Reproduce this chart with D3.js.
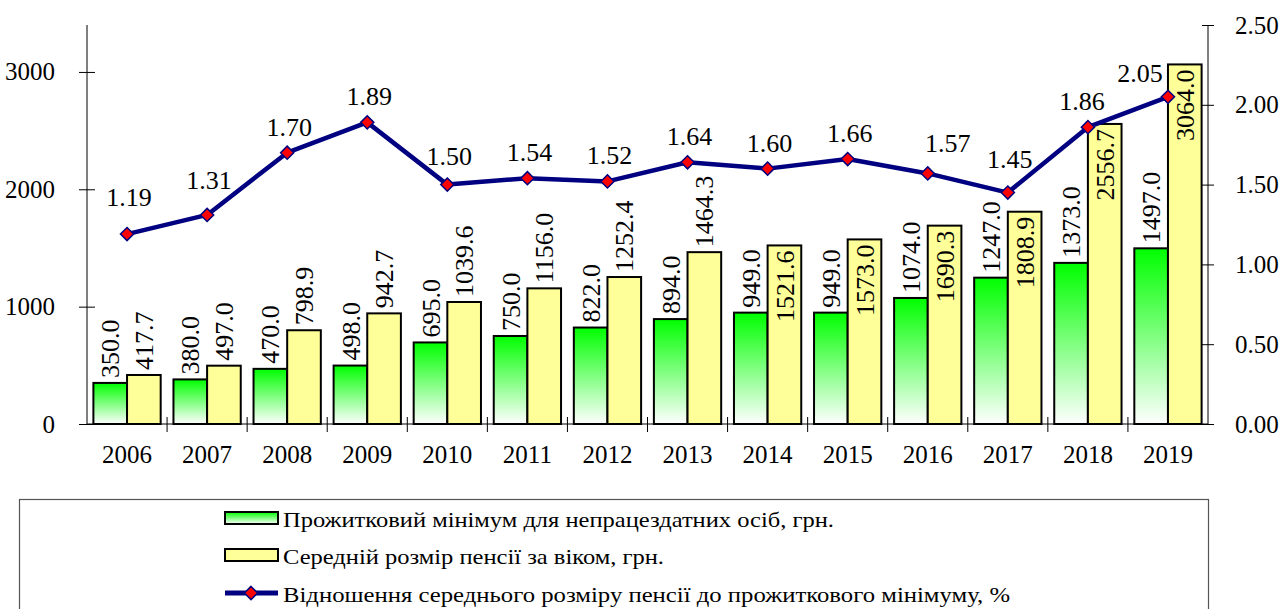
<!DOCTYPE html>
<html>
<head>
  <meta charset="utf-8">
  <style>
    body { margin: 0; background: #fff; }
    text { font-family: "Liberation Serif", "Times New Roman", serif; fill: #000; }
    .axis path, .axis line { stroke: #000; stroke-width: 1px; }
    .bar { stroke: #000; stroke-width: 2px; }
  </style>
</head>
<body>
  <script src="https://d3js.org/d3.v7.min.js"></script>
  <script>
    var years = ["2006", "2007", "2008", "2009", "2010", "2011", "2012", "2013", "2014", "2015", "2016", "2017", "2018", "2019"];
    var minimum = [350.0, 380.0, 470.0, 498.0, 695.0, 750.0, 822.0, 894.0, 949.0, 949.0, 1074.0, 1247.0, 1373.0, 1497.0];
    var pension = [417.7, 497.0, 798.9, 942.7, 1039.6, 1156.0, 1252.4, 1464.3, 1521.6, 1573.0, 1690.3, 1808.9, 2556.7, 3064.0];
    var ratio = [1.19, 1.31, 1.70, 1.89, 1.50, 1.54, 1.52, 1.64, 1.60, 1.66, 1.57, 1.45, 1.86, 2.05];
    var leftTicks = [0, 1000, 2000, 3000];
    var rightTicks = [0, 0.5, 1, 1.5, 2, 2.5];
    var legendLabels = [
      "Прожитковий мінімум для непрацездатних осіб, грн.",
      "Середній розмір пенсії за віком, грн.",
      "Відношення середнього розміру пенсії до прожиткового мінімуму, %"
    ];

    var width = 1281, height = 609;
    var plotLeft = 87, plotRight = 1208, plotTop = 25, plotBottom = 424;

    var svg = d3.select("body").append("svg")
        .attr("width", width)
        .attr("height", height);

    var defs = svg.append("defs");
    var grad = defs.append("linearGradient")
        .attr("id", "greenGrad")
        .attr("x1", 0).attr("y1", 0).attr("x2", 0).attr("y2", 1);
    grad.append("stop").attr("offset", "0%").attr("stop-color", "#00ff00");
    grad.append("stop").attr("offset", "100%").attr("stop-color", "#ffffff");

    var x = d3.scaleBand().domain(years).range([plotLeft, plotRight]).padding(0);
    var xs = d3.scaleBand().domain([0, 1]).range([0, x.bandwidth()]).paddingInner(0).paddingOuter(0.19);
    var y = d3.scaleLinear().domain([0, 3400]).range([plotBottom, plotTop]);
    var y2 = d3.scaleLinear().domain([0, 2.5]).range([plotBottom, plotTop]);

    // axes
    var gLeft = svg.append("g").attr("class", "axis").attr("transform", "translate(" + plotLeft + ",0)")
        .call(d3.axisLeft(y).tickValues(leftTicks).tickSize(8).tickPadding(24).tickFormat(d3.format("d")));
    gLeft.selectAll(".tick line").attr("x1", 8);
    gLeft.select(".domain").attr("d", "M0," + plotTop + "V" + plotBottom);

    var gRight = svg.append("g").attr("class", "axis").attr("transform", "translate(" + plotRight + ",0)")
        .call(d3.axisRight(y2).tickValues(rightTicks).tickSize(6).tickPadding(21).tickFormat(d3.format(".2f")));
    gRight.selectAll(".tick line").attr("x1", -6);
    gRight.select(".domain").attr("d", "M0," + plotTop + "V" + plotBottom);

    var gBottom = svg.append("g").attr("class", "axis").attr("transform", "translate(0," + plotBottom + ")");
    gBottom.append("line").attr("x1", plotLeft).attr("x2", plotRight).attr("y1", 0).attr("y2", 0);
    gBottom.selectAll(".sep").data(years.slice(1)).enter().append("line")
        .attr("x1", d => x(d)).attr("x2", d => x(d))
        .attr("y1", -7).attr("y2", 8);
    gBottom.selectAll(".yr").data(years).enter().append("text")
        .attr("x", d => x(d) + x.bandwidth() / 2)
        .attr("y", 39)
        .attr("text-anchor", "middle")
        .style("font-size", "25px")
        .text(d => d);

    svg.selectAll(".axis .tick text").style("font-size", "25px");

    // bars
    var series = [
      {values: minimum, fill: "url(#greenGrad)"},
      {values: pension, fill: "#ffff99"}
    ];
    series.forEach(function(s, si) {
      svg.selectAll(".bar" + si).data(s.values).enter().append("rect")
          .attr("class", "bar")
          .attr("x", (d, i) => x(years[i]) + xs(si))
          .attr("width", xs.bandwidth())
          .attr("y", d => y(d))
          .attr("height", d => plotBottom - y(d))
          .attr("fill", s.fill);

      // labels of the tall pension bars sit inside the bar end
      svg.selectAll(".lab" + si).data(s.values).enter().append("text")
          .attr("transform", function(d, i) {
            var cx = x(years[i]) + xs(si) + xs.bandwidth() / 2;
            return "translate(" + cx + "," + y(d) + ") rotate(-90)";
          })
          .attr("x", d => (si === 1 && d > 1500) ? -5 : 5)
          .attr("dy", "0.35em")
          .attr("text-anchor", d => (si === 1 && d > 1500) ? "end" : "start")
          .style("font-size", "26px")
          .text(d => d.toFixed(1));
    });

    // ratio line
    var cx = (d, i) => x(years[i]) + x.bandwidth() / 2;
    var line = d3.line().x(cx).y(d => y2(d));
    svg.append("path")
        .datum(ratio)
        .attr("fill", "none")
        .attr("stroke", "#000080")
        .attr("stroke-width", 4.5)
        .attr("stroke-linejoin", "round")
        .attr("d", line);

    var diamond = d3.symbol().type(d3.symbolDiamond2).size(110);
    svg.selectAll(".pt").data(ratio).enter().append("path")
        .attr("transform", (d, i) => "translate(" + cx(d, i) + "," + y2(d) + ")")
        .attr("d", diamond)
        .attr("fill", "#ff0000")
        .attr("stroke", "#000080")
        .attr("stroke-width", 1.5);

    // label nudges, as placed in the original
    var shiftX = {10: 18, 12: -8, 13: -30};
    var gapY = {0: 28, 1: 26, 4: 20, 10: 21, 11: 25, 13: 15};
    svg.selectAll(".rl").data(ratio).enter().append("text")
        .attr("x", (d, i) => cx(d, i) + 2 + (shiftX[i] || 0))
        .attr("y", (d, i) => y2(d) - (gapY[i] || 17))
        .attr("text-anchor", "middle")
        .style("font-size", "26px")
        .text(d => d.toFixed(2));

    // legend
    svg.append("rect")
        .attr("x", 19.5).attr("y", 499.5)
        .attr("width", 1189).attr("height", 120)
        .attr("fill", "#fff")
        .attr("stroke", "#555")
        .attr("stroke-width", 1.2);

    var legendWidths = [551, 381, 727];
    var rows = [518, 555, 593];
    var lg = svg.append("g");
    lg.append("rect").attr("x", 225).attr("y", rows[0] - 6).attr("width", 53).attr("height", 12)
        .attr("fill", "url(#greenGrad)").attr("stroke", "#000").attr("stroke-width", 2);
    lg.append("rect").attr("x", 225).attr("y", rows[1] - 6).attr("width", 53).attr("height", 12)
        .attr("fill", "#ffff99").attr("stroke", "#000").attr("stroke-width", 2);
    lg.append("line").attr("x1", 225).attr("x2", 278).attr("y1", rows[2]).attr("y2", rows[2])
        .attr("stroke", "#000080").attr("stroke-width", 5);
    lg.append("path").attr("transform", "translate(251," + rows[2] + ")")
        .attr("d", diamond).attr("fill", "#ff0000").attr("stroke", "#000080").attr("stroke-width", 1.5);

    lg.selectAll(".lt").data(legendLabels).enter().append("text")
        .attr("x", 283)
        .attr("y", (d, i) => rows[i] + 9)
        .attr("textLength", (d, i) => legendWidths[i])
        .attr("lengthAdjust", "spacingAndGlyphs")
        .style("font-size", "22px")
        .text(d => d);
  </script>
</body>
</html>
